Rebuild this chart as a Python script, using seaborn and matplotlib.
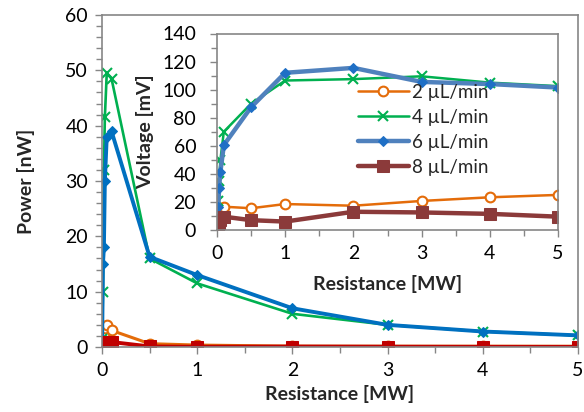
import numpy as np
import pandas as pd
import matplotlib
matplotlib.use("Agg")
import matplotlib.pyplot as plt
import seaborn as sns
from matplotlib.ticker import MultipleLocator

# resistance values [MW], shared by all series
resistance = [0.001, 0.01, 0.02, 0.03, 0.05, 0.1, 0.5, 1, 2, 3, 4, 5]
flow_labels = ["2 \u00b5L/min", "4 \u00b5L/min", "6 \u00b5L/min", "8 \u00b5L/min"]

# power [nW] (main chart)
power_2 = [0.3, 1.0, 2.0, 3.5, 4.0, 3.0, 0.6, 0.35, 0.15, 0.14, 0.14, 0.13]
power_4 = [1.5, 10.0, 32.0, 41.5, 49.5, 48.5, 16.0, 11.5, 6.0, 4.0, 2.8, 2.1]
power_6 = [0.5, 15.0, 18.0, 30.0, 38.0, 39.0, 16.3, 13.0, 7.0, 4.0, 2.8, 2.1]
power_8 = [0.1, 0.2, 0.5, 0.7, 0.9, 0.9, 0.1, 0.04, 0.08, 0.05, 0.03, 0.02]

# voltage [mV] (inset)
volt_2 = [1.0, 3.0, 8.0, 12.0, 15.0, 16.6, 15.5, 18.5, 17.3, 20.7, 23.3, 25.0]
volt_4 = [5.0, 14.0, 20.5, 35.0, 50.0, 70.0, 90.0, 106.5, 107.5, 109.5, 105.0, 102.5]
volt_6 = [3.0, 8.5, 16.5, 30.0, 41.5, 60.5, 87.5, 112.0, 115.5, 105.5, 104.0, 101.5]
volt_8 = [0.5, 1.0, 3.0, 5.0, 7.0, 9.5, 7.0, 6.0, 13.0, 12.5, 11.5, 9.5]

sns.set_theme(style="white")
plt.rcParams["font.family"] = ["Lato", "DejaVu Sans"]

GREY = "#868686"
TICK_FS = 14
LABEL_FS = 14


def style_axes(a, ymajor, yminor, ypad):
    a.set_xlim(0, 5)
    a.xaxis.set_major_locator(MultipleLocator(1))
    a.xaxis.set_minor_locator(MultipleLocator(0.5))
    a.yaxis.set_major_locator(MultipleLocator(ymajor))
    a.yaxis.set_minor_locator(MultipleLocator(yminor))
    a.tick_params(axis="both", which="both", direction="out", color=GREY,
                  bottom=True, left=True, top=False, right=False)
    a.tick_params(axis="both", which="major", length=5, width=1,
                  labelsize=TICK_FS, labelcolor="black")
    a.tick_params(axis="both", which="minor", length=4, width=1)
    a.tick_params(axis="x", which="major", pad=6)
    a.tick_params(axis="y", which="major", pad=ypad)
    for s in a.spines.values():
        s.set_color(GREY)
        s.set_linewidth(1.2)


fig = plt.figure(figsize=(5.84, 4.12), dpi=100)
ax = fig.add_axes([102 / 584, 1 - 347 / 412, 476 / 584, 332 / 412])

main_styles = [
    dict(color="#E46C0A", marker="o", markersize=7, markerfacecolor="white",
         markeredgecolor="#E46C0A", markeredgewidth=1.5, linewidth=2.2),
    dict(color="#00B050", marker="x", markersize=7, markeredgewidth=1.5,
         markeredgecolor="#00B050", linewidth=1.9),
    dict(color="#0070C0", marker="D", markersize=5.5, markeredgecolor="#0070C0",
         linewidth=2.8),
    dict(color="#C00000", marker="s", markersize=8, markeredgecolor="#C00000",
         linewidth=2.8),
]
for vals, st in zip([power_2, power_4, power_6, power_8], main_styles):
    sns.lineplot(x=resistance, y=vals, ax=ax, sort=False, **st)

ax.set_ylim(0, 60)
style_axes(ax, 10, 2, 5)
ax.set_xlabel("Resistance [MW]", fontsize=LABEL_FS, fontweight="bold", labelpad=4)
ax.set_ylabel("Power [nW]", fontsize=LABEL_FS, fontweight="bold", labelpad=22)

# inset: voltage
ins = fig.add_axes([217 / 584, 1 - 230 / 412, 341 / 584, 196.5 / 412])
ins.set_facecolor("none")
inset_styles = [
    dict(color="#E46C0A", marker="o", markersize=7, markerfacecolor="white",
         markeredgecolor="#E46C0A", markeredgewidth=1.5, linewidth=1.8),
    dict(color="#00B050", marker="x", markersize=7, markeredgewidth=1.5,
         markeredgecolor="#00B050", linewidth=1.8),
    dict(color="#4F81BD", marker="D", markersize=5.5, markeredgecolor="#1F6FC5",
         markerfacecolor="#1F6FC5", linewidth=3.2),
    dict(color="#8B3A3A", marker="s", markersize=8.5, markeredgecolor="#8B3A3A",
         linewidth=3.2),
]
for vals, st, lab in zip([volt_2, volt_4, volt_6, volt_8], inset_styles, flow_labels):
    sns.lineplot(x=resistance, y=vals, ax=ins, sort=False, label=lab, **st)

ins.set_ylim(0, 140)
style_axes(ins, 20, 10, 10)
ins.set_xlabel("Resistance [MW]", fontsize=LABEL_FS, fontweight="bold", labelpad=9)
ins.set_ylabel("Voltage [mV]", fontsize=LABEL_FS, fontweight="bold", labelpad=6)

ins.legend(loc="upper left", bbox_to_anchor=(358 / 584, 1 - 84 / 412),
           bbox_transform=fig.transFigure, frameon=False, fontsize=13.5,
           handlelength=2.7, handletextpad=0.2, labelspacing=0.42,
           borderpad=0, borderaxespad=0)

fig.savefig("out.png", dpi=100)
plt.close(fig)
